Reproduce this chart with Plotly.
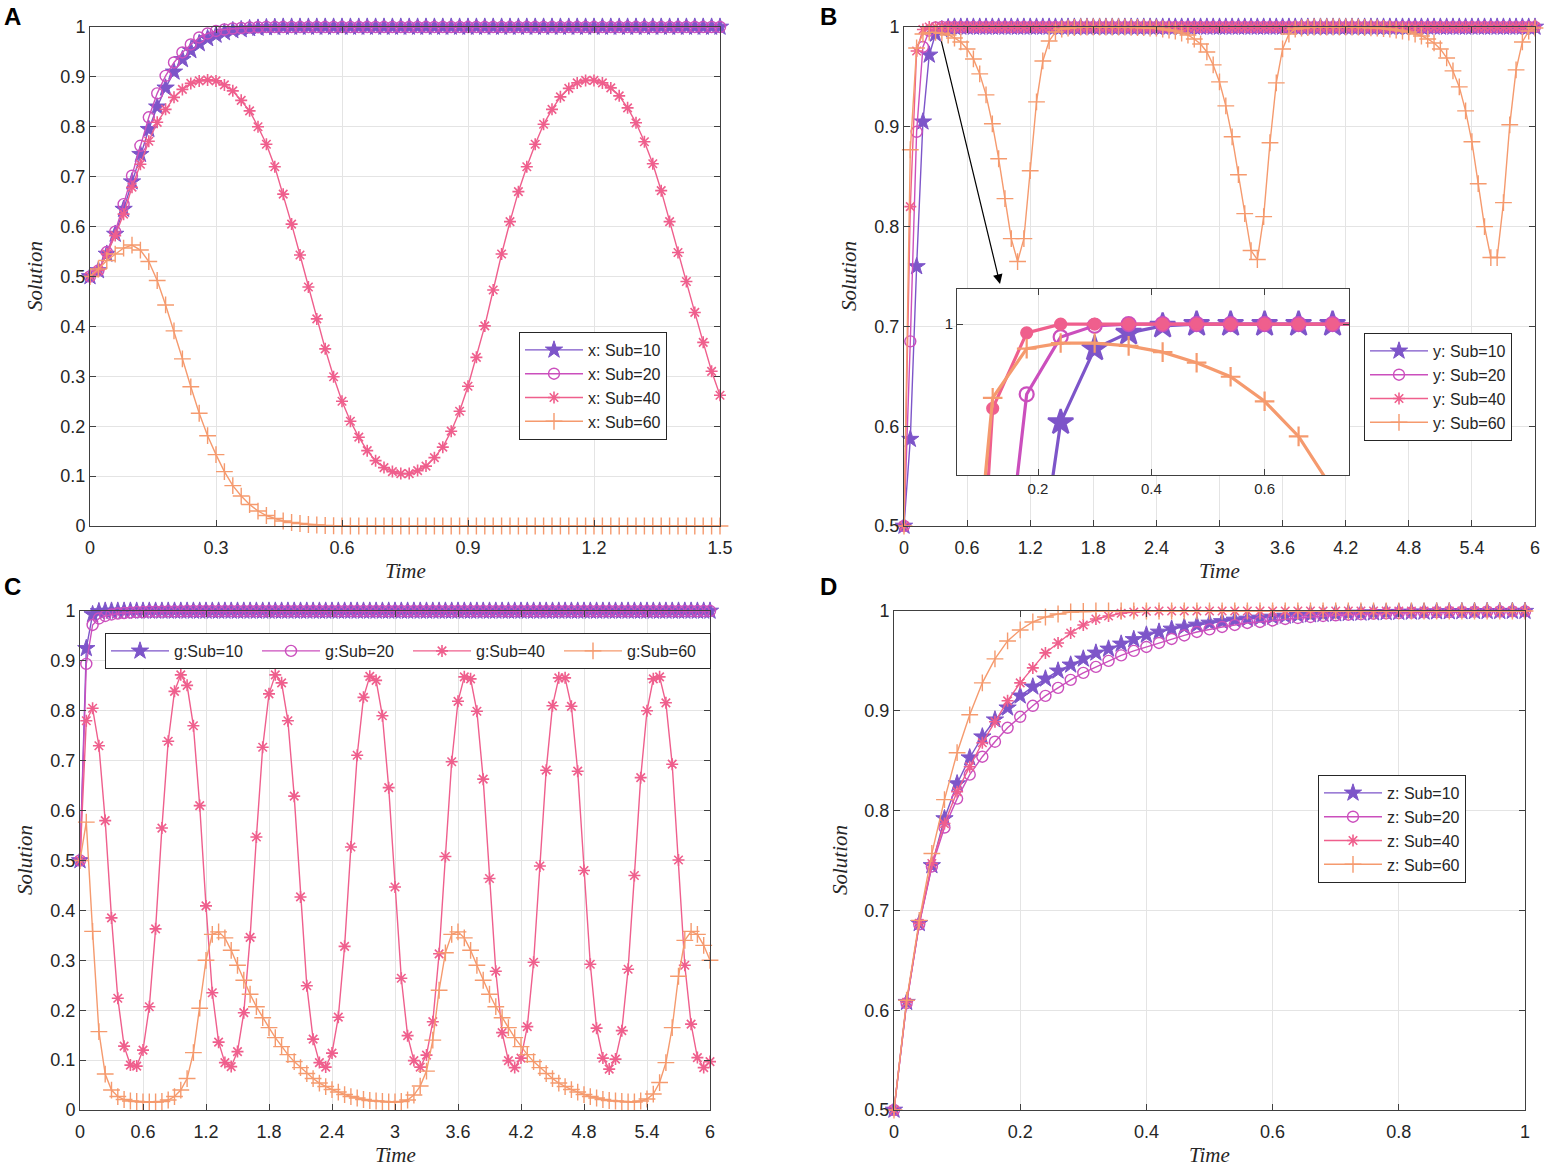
import plotly.graph_objects as go

# ---------------- time grids ----------------
tA = [round(0.02 * i, 2) for i in range(76)]    # panel A, 0..1.5
tB = [round(0.06 * i, 2) for i in range(101)]   # panel B, 0..6
tC = [round(0.06 * i, 2) for i in range(101)]   # panel C, 0..6
tD = [round(0.02 * i, 2) for i in range(51)]    # panel D, 0..1

# ---------------- Panel A : x ----------------
x_sub10 = [
    0.500, 0.512, 0.545, 0.585, 0.635, 0.690, 0.745, 0.795, 0.840, 0.878,
    0.910, 0.935, 0.953, 0.967, 0.977, 0.984, 0.989, 0.993, 0.995, 0.997,
    0.998, 0.999, 0.9995, 1.0, 1.0, 1.0, 1.0, 1.0, 1.0, 1.0,
    1.0, 1.0, 1.0, 1.0, 1.0, 1.0, 1.0, 1.0, 1.0, 1.0,
    1.0, 1.0, 1.0, 1.0, 1.0, 1.0, 1.0, 1.0, 1.0, 1.0,
    1.0, 1.0, 1.0, 1.0, 1.0, 1.0, 1.0, 1.0, 1.0, 1.0,
    1.0, 1.0, 1.0, 1.0, 1.0, 1.0, 1.0, 1.0, 1.0, 1.0,
    1.0, 1.0, 1.0, 1.0, 1.0, 1.0]
x_sub20 = [
    0.500, 0.512, 0.549, 0.590, 0.645, 0.702, 0.762, 0.819, 0.867, 0.902,
    0.929, 0.949, 0.965, 0.979, 0.987, 0.992, 0.995, 0.997, 0.998, 0.999,
    0.9995, 1.0, 1.0, 1.0, 1.0, 1.0, 1.0, 1.0, 1.0, 1.0,
    1.0, 1.0, 1.0, 1.0, 1.0, 1.0, 1.0, 1.0, 1.0, 1.0,
    1.0, 1.0, 1.0, 1.0, 1.0, 1.0, 1.0, 1.0, 1.0, 1.0,
    1.0, 1.0, 1.0, 1.0, 1.0, 1.0, 1.0, 1.0, 1.0, 1.0,
    1.0, 1.0, 1.0, 1.0, 1.0, 1.0, 1.0, 1.0, 1.0, 1.0,
    1.0, 1.0, 1.0, 1.0, 1.0, 1.0]
x_sub40 = [
    0.500, 0.512, 0.545, 0.582, 0.625, 0.679, 0.725, 0.771, 0.809, 0.835,
    0.859, 0.875, 0.887, 0.892, 0.894, 0.892, 0.884, 0.872, 0.853, 0.832,
    0.800, 0.765, 0.720, 0.665, 0.605, 0.543, 0.479, 0.415, 0.355, 0.299,
    0.250, 0.210, 0.178, 0.151, 0.131, 0.117, 0.109, 0.105, 0.105, 0.111,
    0.120, 0.137, 0.158, 0.190, 0.230, 0.280, 0.338, 0.401, 0.473, 0.545,
    0.610, 0.670, 0.720, 0.765, 0.805, 0.835, 0.860, 0.877, 0.888, 0.893,
    0.893, 0.888, 0.878, 0.862, 0.838, 0.808, 0.770, 0.726, 0.672, 0.610,
    0.548, 0.490, 0.428, 0.368, 0.310, 0.262]
x_sub60 = [
    0.500, 0.515, 0.532, 0.545, 0.557, 0.563, 0.553, 0.530, 0.492, 0.443,
    0.391, 0.335, 0.279, 0.226, 0.181, 0.143, 0.109, 0.081, 0.060, 0.043,
    0.030, 0.021, 0.015, 0.010, 0.007, 0.005, 0.003, 0.002, 0.001, 0.0005,
    0.0, 0.0, 0.0, 0.0, 0.0, 0.0, 0.0, 0.0, 0.0, 0.0,
    0.0, 0.0, 0.0, 0.0, 0.0, 0.0, 0.0, 0.0, 0.0, 0.0,
    0.0, 0.0, 0.0, 0.0, 0.0, 0.0, 0.0, 0.0, 0.0, 0.0,
    0.0, 0.0, 0.0, 0.0, 0.0, 0.0, 0.0, 0.0, 0.0, 0.0,
    0.0, 0.0, 0.0, 0.0, 0.0, 0.0]

# ---------------- Panel B : y ----------------
y_sub10 = [
    0.500, 0.587, 0.760, 0.905, 0.972, 0.993, 0.9975, 0.9995, 1.0, 1.0,
    1.0, 1.0, 1.0, 1.0, 1.0, 1.0, 1.0, 1.0, 1.0, 1.0,
    1.0, 1.0, 1.0, 1.0, 1.0, 1.0, 1.0, 1.0, 1.0, 1.0,
    1.0, 1.0, 1.0, 1.0, 1.0, 1.0, 1.0, 1.0, 1.0, 1.0,
    1.0, 1.0, 1.0, 1.0, 1.0, 1.0, 1.0, 1.0, 1.0, 1.0,
    1.0, 1.0, 1.0, 1.0, 1.0, 1.0, 1.0, 1.0, 1.0, 1.0,
    1.0, 1.0, 1.0, 1.0, 1.0, 1.0, 1.0, 1.0, 1.0, 1.0,
    1.0, 1.0, 1.0, 1.0, 1.0, 1.0, 1.0, 1.0, 1.0, 1.0,
    1.0, 1.0, 1.0, 1.0, 1.0, 1.0, 1.0, 1.0, 1.0, 1.0,
    1.0, 1.0, 1.0, 1.0, 1.0, 1.0, 1.0, 1.0, 1.0, 1.0,
    1.0]
y_sub20 = [
    0.500, 0.685, 0.895, 0.980, 0.9963, 0.9995, 1.0, 1.0, 1.0, 1.0,
    1.0, 1.0, 1.0, 1.0, 1.0, 1.0, 1.0, 1.0, 1.0, 1.0,
    1.0, 1.0, 1.0, 1.0, 1.0, 1.0, 1.0, 1.0, 1.0, 1.0,
    1.0, 1.0, 1.0, 1.0, 1.0, 1.0, 1.0, 1.0, 1.0, 1.0,
    1.0, 1.0, 1.0, 1.0, 1.0, 1.0, 1.0, 1.0, 1.0, 1.0,
    1.0, 1.0, 1.0, 1.0, 1.0, 1.0, 1.0, 1.0, 1.0, 1.0,
    1.0, 1.0, 1.0, 1.0, 1.0, 1.0, 1.0, 1.0, 1.0, 1.0,
    1.0, 1.0, 1.0, 1.0, 1.0, 1.0, 1.0, 1.0, 1.0, 1.0,
    1.0, 1.0, 1.0, 1.0, 1.0, 1.0, 1.0, 1.0, 1.0, 1.0,
    1.0, 1.0, 1.0, 1.0, 1.0, 1.0, 1.0, 1.0, 1.0, 1.0,
    1.0]
y_sub40 = [
    0.500, 0.820, 0.976, 0.9975, 1.0, 1.0, 1.0, 1.0, 1.0, 1.0,
    1.0, 1.0, 1.0, 1.0, 1.0, 1.0, 1.0, 1.0, 1.0, 1.0,
    1.0, 1.0, 1.0, 1.0, 1.0, 1.0, 1.0, 1.0, 1.0, 1.0,
    1.0, 1.0, 1.0, 1.0, 1.0, 1.0, 1.0, 1.0, 1.0, 1.0,
    1.0, 1.0, 1.0, 1.0, 1.0, 1.0, 1.0, 1.0, 1.0, 1.0,
    1.0, 1.0, 1.0, 1.0, 1.0, 1.0, 1.0, 1.0, 1.0, 1.0,
    1.0, 1.0, 1.0, 1.0, 1.0, 1.0, 1.0, 1.0, 1.0, 1.0,
    1.0, 1.0, 1.0, 1.0, 1.0, 1.0, 1.0, 1.0, 1.0, 1.0,
    1.0, 1.0, 1.0, 1.0, 1.0, 1.0, 1.0, 1.0, 1.0, 1.0,
    1.0, 1.0, 1.0, 1.0, 1.0, 1.0, 1.0, 1.0, 1.0, 1.0,
    1.0]
y_sub60 = [
    0.500, 0.877, 0.979, 0.993, 0.9946, 0.9946, 0.9938, 0.992, 0.989, 0.985,
    0.978, 0.968, 0.953, 0.932, 0.903, 0.868, 0.828, 0.788, 0.765, 0.788,
    0.856, 0.925, 0.966, 0.986, 0.995, 0.998, 0.999, 0.9995, 1.0, 1.0,
    1.0, 1.0, 1.0, 1.0, 1.0, 0.9998, 0.9997, 0.9995, 0.9993, 0.999,
    0.999, 0.998, 0.997, 0.996, 0.994, 0.992, 0.988, 0.983, 0.975, 0.962,
    0.945, 0.921, 0.890, 0.852, 0.813, 0.776, 0.767, 0.810, 0.884, 0.944,
    0.978, 0.993, 0.998, 0.999, 0.9995, 1.0, 1.0, 1.0, 1.0, 1.0,
    1.0, 1.0, 0.9998, 0.9995, 0.9992, 0.999, 0.9985, 0.998, 0.997, 0.996,
    0.995, 0.993, 0.991, 0.988, 0.984, 0.978, 0.969, 0.956, 0.940, 0.916,
    0.885, 0.843, 0.800, 0.769, 0.769, 0.824, 0.902, 0.957, 0.985, 0.996,
    0.999]

# ---------------- Panel C : g ----------------
g_sub10 = [
    0.500, 0.925, 0.993, 0.999, 1.0, 1.0, 1.0, 1.0, 1.0, 1.0,
    1.0, 1.0, 1.0, 1.0, 1.0, 1.0, 1.0, 1.0, 1.0, 1.0,
    1.0, 1.0, 1.0, 1.0, 1.0, 1.0, 1.0, 1.0, 1.0, 1.0,
    1.0, 1.0, 1.0, 1.0, 1.0, 1.0, 1.0, 1.0, 1.0, 1.0,
    1.0, 1.0, 1.0, 1.0, 1.0, 1.0, 1.0, 1.0, 1.0, 1.0,
    1.0, 1.0, 1.0, 1.0, 1.0, 1.0, 1.0, 1.0, 1.0, 1.0,
    1.0, 1.0, 1.0, 1.0, 1.0, 1.0, 1.0, 1.0, 1.0, 1.0,
    1.0, 1.0, 1.0, 1.0, 1.0, 1.0, 1.0, 1.0, 1.0, 1.0,
    1.0, 1.0, 1.0, 1.0, 1.0, 1.0, 1.0, 1.0, 1.0, 1.0,
    1.0, 1.0, 1.0, 1.0, 1.0, 1.0, 1.0, 1.0, 1.0, 1.0,
    1.0]
g_sub20 = [
    0.500, 0.894, 0.972, 0.985, 0.990, 0.993, 0.995, 0.996, 0.997, 0.998,
    0.998, 0.999, 0.999, 0.999, 0.9995, 0.9995, 0.9995, 1.0, 1.0, 1.0,
    1.0, 1.0, 1.0, 1.0, 1.0, 1.0, 1.0, 1.0, 1.0, 1.0,
    1.0, 1.0, 1.0, 1.0, 1.0, 1.0, 1.0, 1.0, 1.0, 1.0,
    1.0, 1.0, 1.0, 1.0, 1.0, 1.0, 1.0, 1.0, 1.0, 1.0,
    1.0, 1.0, 1.0, 1.0, 1.0, 1.0, 1.0, 1.0, 1.0, 1.0,
    1.0, 1.0, 1.0, 1.0, 1.0, 1.0, 1.0, 1.0, 1.0, 1.0,
    1.0, 1.0, 1.0, 1.0, 1.0, 1.0, 1.0, 1.0, 1.0, 1.0,
    1.0, 1.0, 1.0, 1.0, 1.0, 1.0, 1.0, 1.0, 1.0, 1.0,
    1.0, 1.0, 1.0, 1.0, 1.0, 1.0, 1.0, 1.0, 1.0, 1.0,
    1.0]
g_sub40 = [
    0.500, 0.780, 0.805, 0.730, 0.580, 0.385, 0.224, 0.128, 0.090, 0.088,
    0.120, 0.207, 0.363, 0.565, 0.739, 0.839, 0.872, 0.851, 0.770, 0.610,
    0.409, 0.235, 0.136, 0.095, 0.087, 0.117, 0.195, 0.346, 0.547, 0.727,
    0.834, 0.872, 0.856, 0.780, 0.629, 0.427, 0.249, 0.142, 0.095, 0.086,
    0.114, 0.186, 0.328, 0.527, 0.711, 0.827, 0.869, 0.861, 0.790, 0.646,
    0.447, 0.264, 0.149, 0.099, 0.086, 0.110, 0.177, 0.313, 0.508, 0.698,
    0.819, 0.868, 0.864, 0.799, 0.663, 0.464, 0.278, 0.155, 0.099, 0.085,
    0.104, 0.167, 0.296, 0.489, 0.681, 0.810, 0.866, 0.866, 0.809, 0.679,
    0.480, 0.292, 0.164, 0.104, 0.082, 0.102, 0.159, 0.282, 0.470, 0.666,
    0.800, 0.864, 0.868, 0.816, 0.693, 0.501, 0.290, 0.172, 0.105, 0.085,
    0.097]
g_sub60 = [
    0.500, 0.577, 0.358, 0.157, 0.072, 0.040, 0.027, 0.021, 0.018, 0.017,
    0.016, 0.016, 0.016, 0.017, 0.020, 0.027, 0.040, 0.063, 0.115, 0.204,
    0.300, 0.352, 0.357, 0.345, 0.320, 0.290, 0.260, 0.232, 0.207, 0.185,
    0.165, 0.145, 0.127, 0.111, 0.097, 0.085, 0.073, 0.063, 0.054, 0.047,
    0.041, 0.036, 0.031, 0.027, 0.024, 0.021, 0.019, 0.018, 0.017, 0.016,
    0.016, 0.017, 0.020, 0.030, 0.048, 0.078, 0.140, 0.240, 0.315, 0.352,
    0.357, 0.345, 0.320, 0.290, 0.260, 0.232, 0.207, 0.185, 0.165, 0.145,
    0.127, 0.111, 0.097, 0.085, 0.073, 0.063, 0.054, 0.047, 0.041, 0.036,
    0.031, 0.027, 0.024, 0.021, 0.019, 0.018, 0.017, 0.016, 0.016, 0.018,
    0.022, 0.032, 0.055, 0.095, 0.165, 0.268, 0.340, 0.358, 0.352, 0.330,
    0.300]

# ---------------- Panel D : z ----------------
z_sub10 = [
    0.500, 0.608, 0.687, 0.745, 0.792, 0.827, 0.853, 0.874, 0.891, 0.903,
    0.915, 0.924, 0.932, 0.940, 0.946, 0.952, 0.958, 0.962, 0.967, 0.9715,
    0.976, 0.979, 0.982, 0.984, 0.986, 0.988, 0.9895, 0.991, 0.992, 0.993,
    0.994, 0.995, 0.9957, 0.9963, 0.9968, 0.9973, 0.9977, 0.998, 0.9983, 0.9986,
    0.9988, 0.999, 0.9991, 0.9993, 0.9994, 0.9995, 0.9996, 0.9997, 0.9997, 0.9998,
    0.9998]
z_sub20 = [
    0.500, 0.607, 0.686, 0.744, 0.783, 0.812, 0.836, 0.854, 0.869, 0.883,
    0.894, 0.905, 0.915, 0.923, 0.931, 0.938, 0.944, 0.950, 0.9555, 0.960,
    0.964, 0.968, 0.972, 0.9755, 0.979, 0.9816, 0.984, 0.986, 0.988, 0.989,
    0.9905, 0.992, 0.993, 0.994, 0.995, 0.9957, 0.9963, 0.9968, 0.9973, 0.9977,
    0.998, 0.9983, 0.9986, 0.9988, 0.999, 0.9991, 0.9993, 0.9994, 0.9995, 0.9996,
    0.9996]
z_sub40 = [
    0.500, 0.608, 0.687, 0.747, 0.787, 0.819, 0.844, 0.868, 0.889, 0.910,
    0.928, 0.943, 0.958, 0.968, 0.978, 0.986, 0.992, 0.995, 0.9977, 0.999,
    0.9997, 1.0, 1.0, 1.0, 1.0, 1.0, 1.0, 1.0, 1.0, 1.0,
    1.0, 1.0, 1.0, 1.0, 1.0, 1.0, 1.0, 1.0, 1.0, 1.0,
    1.0, 1.0, 1.0, 1.0, 1.0, 1.0, 1.0, 1.0, 1.0, 1.0,
    1.0]
z_sub60 = [
    0.500, 0.610, 0.690, 0.757, 0.811, 0.858, 0.896, 0.928, 0.952, 0.970,
    0.981, 0.989, 0.994, 0.997, 0.999, 0.9995, 1.0, 1.0, 1.0, 1.0,
    1.0, 1.0, 1.0, 1.0, 1.0, 1.0, 1.0, 1.0, 1.0, 1.0,
    1.0, 1.0, 1.0, 1.0, 1.0, 1.0, 1.0, 1.0, 1.0, 1.0,
    1.0, 1.0, 1.0, 1.0, 1.0, 1.0, 1.0, 1.0, 1.0, 1.0,
    1.0]

subs = ["Sub=10", "Sub=20", "Sub=40", "Sub=60"]

for arr in (x_sub10, x_sub20, x_sub40, x_sub60):
    assert len(arr) == len(tA)
for arr in (y_sub10, y_sub20, y_sub40, y_sub60):
    assert len(arr) == len(tB)
for arr in (g_sub10, g_sub20, g_sub40, g_sub60):
    assert len(arr) == len(tC)
for arr in (z_sub10, z_sub20, z_sub40, z_sub60):
    assert len(arr) == len(tD)

# ---------------- styling ----------------
W, H = 1550, 1170
FONT = "Arial, Liberation Sans, sans-serif"
SERIF = "Liberation Serif, DejaVu Serif, serif"
COL = ["#7D55C9", "#CB4FBD", "#EF5F8D", "#F59A6E"]
SYM = ["star", "circle-open", "asterisk-open", "cross-thin-open"]
MSIZE = [13, 11, 10, 12]
MLW = [1.0, 1.4, 1.6, 1.4]
AX = "#404040"


def dx(p0, p1):
    return [p0 / W, p1 / W]


def dy(top, bottom):
    return [1 - bottom / H, 1 - top / H]


def marker(i):
    return dict(symbol=SYM[i], size=MSIZE[i], color=COL[i],
                line=dict(width=MLW[i], color=COL[i]))


fig = go.Figure()

panels = [
    ("x", "y", "legend", tA, [x_sub10, x_sub20, x_sub40, x_sub60], "x: "),
    ("x2", "y2", "legend2", tB, [y_sub10, y_sub20, y_sub40, y_sub60], "y: "),
    ("x3", "y3", "legend3", tC, [g_sub10, g_sub20, g_sub40, g_sub60], "g:"),
    ("x4", "y4", "legend4", tD, [z_sub10, z_sub20, z_sub40, z_sub60], "z: "),
]
for xa, ya, lg, tt, series, prefix in panels:
    for i, vals in enumerate(series):
        fig.add_trace(go.Scatter(
            x=tt, y=vals, xaxis=xa, yaxis=ya, mode="lines+markers",
            name=prefix + subs[i], legend=lg, cliponaxis=False,
            line=dict(color=COL[i], width=1.4), marker=marker(i)))

# inset of panel B (same data, zoomed)
inset_sym = ["star", "circle-open", "circle", "cross-thin-open"]
inset_size = [19, 14, 11, 14]
for i, vals in enumerate([y_sub10, y_sub20, y_sub40, y_sub60]):
    fig.add_trace(go.Scatter(
        x=tB, y=vals, xaxis="x5", yaxis="y5", mode="lines+markers",
        showlegend=False, cliponaxis=True,
        line=dict(color=COL[i], width=3.2),
        marker=dict(symbol=inset_sym[i], size=inset_size[i], color=COL[i],
                    line=dict(width=2.2, color=COL[i]))))


def axis(domain, rng, tickvals, anchor, tsize=18, **kw):
    d = dict(domain=domain, range=rng, anchor=anchor, tickvals=tickvals,
             ticktext=[("%g" % v) for v in tickvals], automargin=False,
             showline=True, linecolor=AX, linewidth=1, mirror="ticks",
             ticks="inside", ticklen=6, tickwidth=1, tickcolor=AX,
             showgrid=True, gridcolor="#e4e4e4", gridwidth=1, zeroline=False,
             tickfont=dict(family=FONT, size=tsize, color="#262626"))
    d.update(kw)
    return d


yt01 = [0, 0.1, 0.2, 0.3, 0.4, 0.5, 0.6, 0.7, 0.8, 0.9, 1]
yt51 = [0.5, 0.6, 0.7, 0.8, 0.9, 1]
xt6 = [0, 0.6, 1.2, 1.8, 2.4, 3, 3.6, 4.2, 4.8, 5.4, 6]
XSO = 5  # extra gap between x axis and its tick labels

legend_common = dict(bgcolor="white", bordercolor="#262626", borderwidth=1,
                     font=dict(family=FONT, size=16, color="#262626"),
                     xanchor="left", yanchor="top", tracegroupgap=0,
                     itemwidth=58)

fig.update_layout(
    width=W, height=H, autosize=False,
    margin=dict(l=0, r=0, t=0, b=0, pad=0, autoexpand=False),
    paper_bgcolor="white", plot_bgcolor="white",
    xaxis=axis(dx(90, 720), [0, 1.5], [0, 0.3, 0.6, 0.9, 1.2, 1.5], "y",
               ticklabelstandoff=XSO),
    yaxis=axis(dy(27, 526), [0, 1], yt01, "x"),
    xaxis2=axis(dx(904, 1535), [0, 6], xt6, "y2", ticklabelstandoff=XSO),
    yaxis2=axis(dy(27, 526), [0.5, 1], yt51, "x2"),
    xaxis3=axis(dx(80, 710), [0, 6], xt6, "y3", ticklabelstandoff=XSO),
    yaxis3=axis(dy(611, 1110), [0, 1], yt01, "x3"),
    xaxis4=axis(dx(894, 1525), [0, 1], [0, 0.2, 0.4, 0.6, 0.8, 1], "y4",
                ticklabelstandoff=XSO),
    yaxis4=axis(dy(611, 1110), [0.5, 1], yt51, "x4"),
    xaxis5=axis(dx(957, 1349), [0.057, 0.749], [0.2, 0.4, 0.6], "y5", tsize=15),
    yaxis5=axis(dy(289, 475), [0.957, 1.01], [1], "x5", tsize=15),
    legend=dict(x=519 / W, y=1 - 332 / H, **legend_common),
    legend2=dict(x=1364 / W, y=1 - 333 / H, **legend_common),
    legend3=dict(x=105 / W, y=1 - 633 / H, orientation="h",
                 entrywidth=78, **legend_common),
    legend4=dict(x=1318 / W, y=1 - 775 / H, **legend_common),
)

annotations = []
# panel letters
for letter, px, py in [("A", 12, 17), ("B", 829, 17), ("C", 12, 586), ("D", 829, 586)]:
    annotations.append(dict(xref="paper", yref="paper", x=px / W, y=1 - py / H,
                            xanchor="center", yanchor="middle",
                            text="<b>%s</b>" % letter, showarrow=False,
                            font=dict(family=FONT, size=24, color="black")))
# axis titles
for px, py in [(35, 276), (849, 276), (25, 860), (840, 860)]:
    annotations.append(dict(xref="paper", yref="paper", x=px / W, y=1 - py / H,
                            xanchor="center", yanchor="middle",
                            text="<i>Solution</i>", textangle=-90, showarrow=False,
                            font=dict(family=SERIF, size=21, color="#262626")))
for px, py in [(405, 571), (1219, 571), (395, 1155), (1209, 1155)]:
    annotations.append(dict(xref="paper", yref="paper", x=px / W, y=1 - py / H,
                            xanchor="center", yanchor="middle",
                            text="<i>Time</i>", showarrow=False,
                            font=dict(family=SERIF, size=21, color="#262626")))
# arrow pointing to the inset
annotations.append(dict(xref="x2", yref="y2", axref="x2", ayref="y2",
                        x=0.913, y=0.7425, ax=0.352, ay=0.987, text="",
                        showarrow=True, arrowhead=2, arrowsize=1.6,
                        arrowwidth=1.2, arrowcolor="black"))
fig.update_layout(annotations=annotations)

fig.write_html("out.html", config={"displayModeBar": False},
               post_script="document.body.style.margin='0';"
                           "document.body.style.overflow='hidden';")
